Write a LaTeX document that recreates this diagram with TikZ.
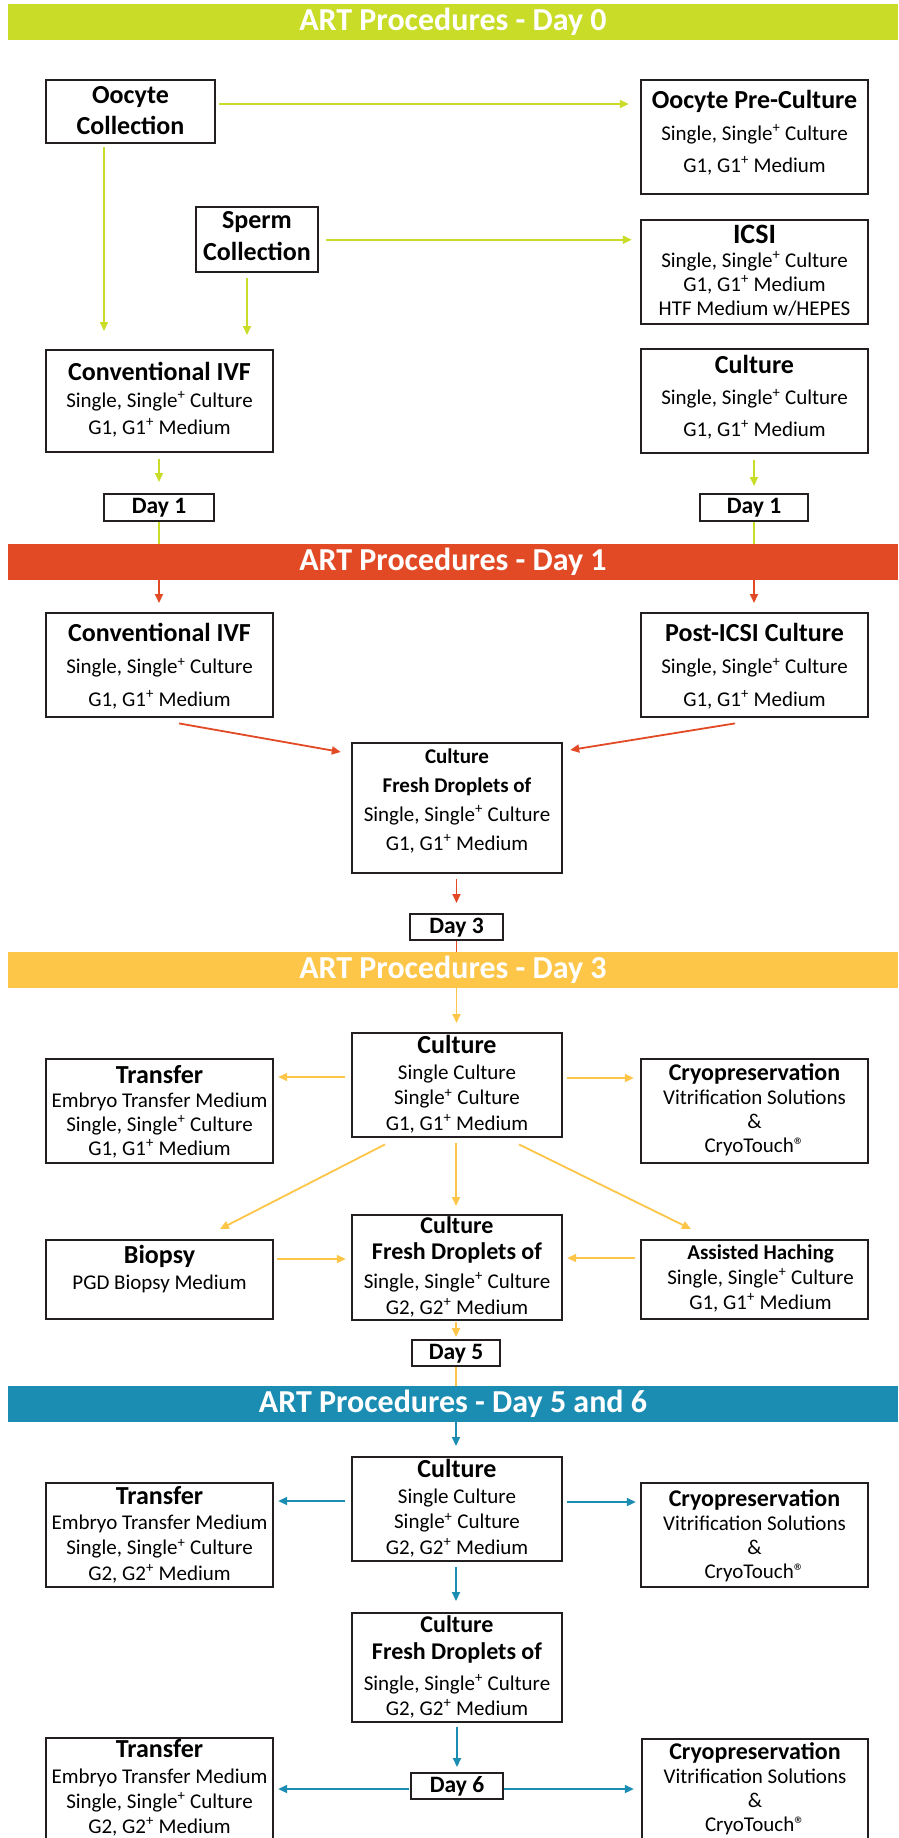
\documentclass[tikz,border=0pt]{standalone}
\usepackage{fontspec}
\setmainfont{Carlito}
\usetikzlibrary{arrows.meta}
\definecolor{artgreen}{HTML}{C8DC28}
\definecolor{artred}{HTML}{E24A26}
\definecolor{artyellow}{HTML}{FDC648}
\definecolor{artblue}{HTML}{1B8DB2}
\definecolor{ink}{HTML}{231F20}
\newcommand\supplus{\textsuperscript{+}}
\newcommand\regmark{®}
\newcommand\hd[2][26]{{\fontsize{#1}{#1}\selectfont\bfseries #2}}

\begin{document}
\begin{tikzpicture}[x=1pt, y=-1pt,
		box/.style={draw=ink, line width=2.4pt, inner sep=0pt, anchor=north, align=center, minimum width=227pt, font=\fontsize{21}{#1}\selectfont},
		daybox/.style={draw=ink, line width=2.4pt, inner sep=0pt, anchor=north, font=\fontsize{23.5}{23.5}\selectfont\bfseries, text height=19pt, text depth=8pt},
		banner/.style={fill=#1, minimum width=890pt, minimum height=36pt, inner sep=0pt, text=white, font=\fontsize{32}{32}\selectfont\bfseries},
		conn/.style={draw=#1, line width=1.8pt, -{Triangle[length=9pt,width=8pt]}},
		link/.style={draw=#1, line width=1.8pt}]
	\useasboundingbox (0,0) rectangle (898,1838);
	\clip (0,0) rectangle (898,1838);
	\fill[white] (0,0) rectangle (898,1838);
	\foreach \n/\y/\c/\d in {b0/22/artgreen/0, b1/562/artred/1, b3/970/artyellow/3, b5/1404/artblue/5 and 6}
		\node[banner=\c] (\n) at (453,\y) {ART Procedures - Day \d};

	\node[box=31, minimum width=169pt, font=\fontsize{26}{31}\selectfont\bfseries, text height=54pt, text depth=9pt] (oc) at (130.5,79) {Oocyte\\Collection};
	\node[box=32, text height=92pt, text depth=22pt] (opc) at (754.5,79) {\hd{Oocyte Pre-Culture}\\Single, Single\supplus{} Culture\\G1, G1\supplus{} Medium};
	\node[box=32, minimum width=122pt, font=\fontsize{26}{32}\selectfont\bfseries, text height=53pt, text depth=12pt] (sc) at (257,206) {Sperm\\Collection};
	\node[box=24, text height=95pt, text depth=9pt] (icsi) at (754.5,219) {\hd[28]{ICSI}\\Single, Single\supplus{} Culture\\G1, G1\supplus{} Medium\\HTF Medium w/HEPES};
	\node[box=27, text height=84pt, text depth=18pt] (ivf0) at (159.5,349) {\hd{Conventional IVF}\\Single, Single\supplus{} Culture\\G1, G1\supplus{} Medium};
	\node[box=31.5, text height=87pt, text depth=17pt] (cul0) at (754.5,348) {\hd{Culture}\\Single, Single\supplus{} Culture\\G1, G1\supplus{} Medium};
	\node[daybox, minimum width=110pt] (d1a) at (159,493) {Day 1};
	\node[daybox, minimum width=108pt] (d1b) at (754,493) {Day 1};

	\node[box=32.5, text height=93pt, text depth=11pt] (ivf1) at (159.5,612) {\hd{Conventional IVF}\\Single, Single\supplus{} Culture\\G1, G1\supplus{} Medium};
	\node[box=32.5, text height=93pt, text depth=11pt] (post) at (754.5,612) {\hd{Post-ICSI Culture}\\Single, Single\supplus{} Culture\\G1, G1\supplus{} Medium};
	\node[box=29, minimum width=210pt, text height=107pt, text depth=23pt] (cf1) at (457,742) {\hd[21]{Culture}\\\hd[21]{Fresh Droplets of}\\Single, Single\supplus{} Culture\\G1, G1\supplus{} Medium};
	\node[daybox, minimum width=93pt, text depth=7pt] (d3) at (456.5,913) {Day 3};

	\node[box=25.5, minimum width=210pt, text height=97pt, text depth=7pt] (c3) at (457,1032) {\hd{Culture}\\Single Culture\\Single\supplus{} Culture\\G1, G1\supplus{} Medium};
	\node[box=24, text height=96pt, text depth=8pt] (tr3) at (159.5,1058) {\hd{Transfer}\\Embryo Transfer Medium\\Single, Single\supplus{} Culture\\G1, G1\supplus{} Medium};
	\node[box=24, text height=93pt, text depth=11pt] (cr3) at (754.5,1058) {\hd[24]{Cryopreservation}\\Vitrification Solutions\\\&\\CryoTouch\regmark};
	\node[box=26, text height=49pt, text depth=30pt] (bi3) at (159.5,1239) {\hd{Biopsy}\\PGD Biopsy Medium};
	\node[box=26, minimum width=210pt, text height=99pt, text depth=6pt] (cf3) at (457,1214) {\hd[24]{Culture}\\\hd[24]{Fresh Droplets of}\\[3pt]Single, Single\supplus{} Culture\\G2, G2\supplus{} Medium};
	\node[box=25, text height=69pt, text depth=10pt] (ah3) at (754.5,1239) {\hd[21]{\hspace*{12pt}Assisted Haching}\\\hspace*{12pt}Single, Single\supplus{} Culture\\\hspace*{12pt}G1, G1\supplus{} Medium};
	\node[daybox, minimum width=88pt, text depth=7pt] (d5) at (456,1339) {Day 5};

	\node[box=25.5, minimum width=210pt, text height=97pt, text depth=7pt] (c5) at (457,1456) {\hd{Culture}\\Single Culture\\Single\supplus{} Culture\\G2, G2\supplus{} Medium};
	\node[box=25.3, text height=97pt, text depth=7pt] (tr5) at (159.5,1482) {\hd{Transfer}\\Embryo Transfer Medium\\Single, Single\supplus{} Culture\\G2, G2\supplus{} Medium};
	\node[box=24, text height=95pt, text depth=9pt] (cr5) at (754.5,1482) {\hd[24]{Cryopreservation}\\Vitrification Solutions\\\&\\CryoTouch\regmark};
	\node[box=27, minimum width=210pt, text height=102pt, text depth=7pt] (cf5) at (457,1612) {\hd[24]{Culture}\\\hd[24]{Fresh Droplets of}\\[4pt]Single, Single\supplus{} Culture\\[-2pt]G2, G2\supplus{} Medium};
	\node[daybox, minimum width=92pt, text depth=7pt] (d6) at (457,1772) {Day 6};
	\node[box=25, text height=95pt, text depth=13pt] (tr6) at (159.5,1737) {\hd{Transfer}\\[1pt]Embryo Transfer Medium\\Single, Single\supplus{} Culture\\G2, G2\supplus{} Medium};
	\node[box=24, minimum width=226pt, text height=92pt, text depth=15pt] (cr6) at (755,1738) {\hd[24]{Cryopreservation}\\Vitrification Solutions\\\&\\CryoTouch\regmark};

	\draw[conn=artgreen, shorten <=3pt, shorten >=11pt] (oc.east |- 0,104) -- (opc.west |- 0,104);
	\draw[conn=artgreen, shorten <=7pt, shorten >=8pt] (sc.east) -- (sc.east -| icsi.west);
	\draw[conn=artgreen, shorten <=3pt, shorten >=18pt] (oc.south -| 104,0) -- (ivf0.north -| 104,0);
	\draw[conn=artgreen, shorten <=5pt, shorten >=14pt] (sc.south -| 247,0) -- (ivf0.north -| 247,0);
	\draw[conn=artgreen, shorten <=6pt, shorten >=11pt] (ivf0.south -| d1a) -- (d1a.north);
	\draw[conn=artgreen, shorten <=6pt, shorten >=7pt] (cul0.south -| d1b) -- (d1b.north);
	\draw[link=artgreen] (d1a.south) -- (d1a |- b1.north);
	\draw[link=artgreen] (d1b.south) -- (d1b |- b1.north);

	\draw[conn=artred, shorten >=9pt] (d1a |- b1.south) -- (d1a |- ivf1.north);
	\draw[conn=artred, shorten >=9pt] (d1b |- b1.south) -- (d1b |- post.north);
	\draw[conn=artred] ([xshift=19.5pt, yshift=-5pt]ivf1.south) -- ([xshift=-10pt, yshift=-10pt]cf1.north west);
	\draw[conn=artred] ([xshift=-19.5pt, yshift=-5pt]post.south) -- ([xshift=7pt, yshift=-8pt]cf1.north east);
	\draw[conn=artred, shorten <=5pt, shorten >=10pt] (cf1.south -| d3) -- (d3.north);
	\draw[link=artred] (d3.south) -- (d3 |- b3.north);

	\draw[conn=artyellow, shorten >=9pt] (d3 |- b3.south) -- (d3 |- c3.north);
	\draw[conn=artyellow, shorten <=6pt, shorten >=4pt] (c3.west |- 0,1077) -- (tr3.east |- 0,1077);
	\draw[conn=artyellow, shorten <=4pt, shorten >=6pt] (c3.east |- 0,1078) -- (cr3.west |- 0,1078);
	\draw[conn=artyellow] ([xshift=-72pt, yshift=-6pt]c3.south) -- ([xshift=60.5pt, yshift=10pt]bi3.north);
	\draw[conn=artyellow] ([xshift=62pt, yshift=-6pt]c3.south) -- ([xshift=-63.5pt, yshift=10pt]ah3.north);
	\draw[conn=artyellow, shorten <=5pt, shorten >=8pt] (c3.south -| d5) -- (cf3.north -| d5);
	\draw[conn=artyellow, shorten <=3pt, shorten >=5pt] (bi3.east |- 0,1259) -- (cf3.west |- 0,1259);
	\draw[conn=artyellow, shorten <=5pt, shorten >=4pt] (ah3.west |- 0,1258) -- (cf3.east |- 0,1258);
	\draw[conn=artyellow, shorten <=1pt, shorten >=2pt] (cf3.south -| d5) -- (d5.north);
	\draw[link=artyellow] (d5.south) -- (d5 |- b5.north);

	\draw[conn=artblue, shorten >=10pt] (d5 |- b5.south) -- (d5 |- c5.north);
	\draw[conn=artblue, shorten <=6pt, shorten >=4pt] (c5.west |- 0,1501) -- (tr5.east |- 0,1501);
	\draw[conn=artblue, shorten <=4pt, shorten >=4pt] (c5.east |- 0,1502) -- (cr5.west |- 0,1502);
	\draw[conn=artblue, shorten <=5pt, shorten >=11pt] (c5.south -| d5) -- (cf5.north -| d5);
	\draw[conn=artblue, shorten <=4pt, shorten >=5pt] (cf5.south -| d6) -- (d6.north);
	\draw[conn=artblue, shorten <=1pt, shorten >=4pt] (d6.west |- 0,1789) -- (tr6.east |- 0,1789);
	\draw[conn=artblue, shorten >=7pt] (d6.east |- 0,1789) -- (cr6.west |- 0,1789);
\end{tikzpicture}
\end{document}
